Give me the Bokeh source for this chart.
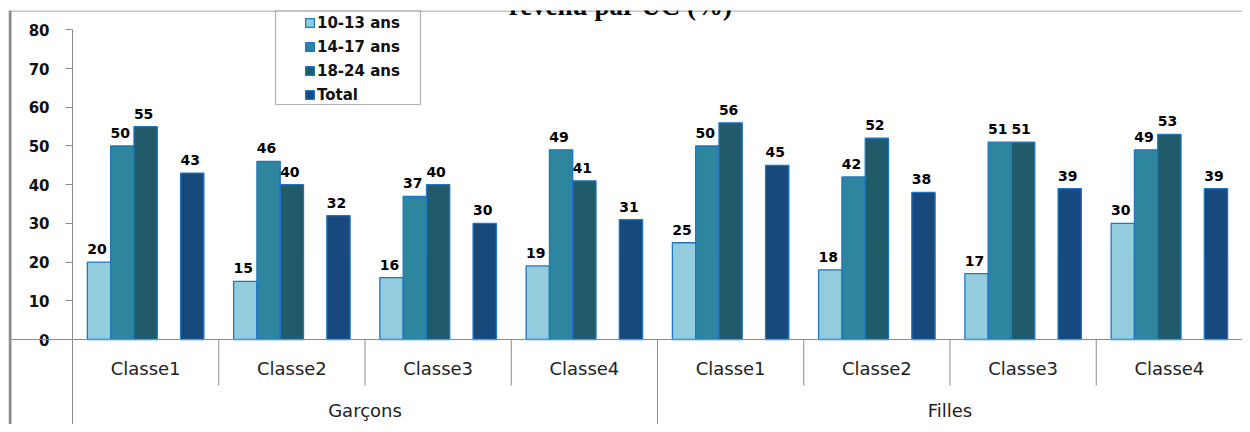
from bokeh.plotting import figure
from bokeh.models import (ColumnDataSource, Legend, LegendItem, FixedTicker, Span,
                          BoxAnnotation, Label, Range1d)
from bokeh.core.properties import value
from bokeh.embed import file_html
from bokeh.resources import INLINE

# ---------------- data ----------------
genders = ["Garçons", "Filles"]
classes = ["Classe1", "Classe2", "Classe3", "Classe4"]
series = ["10-13 ans", "14-17 ans", "18-24 ans", "Total"]
v_10_13 = [20, 15, 16, 19, 25, 18, 17, 30]
v_14_17 = [50, 46, 37, 49, 50, 42, 51, 49]
v_18_24 = [55, 40, 40, 41, 56, 52, 51, 53]
v_total = [43, 32, 30, 31, 45, 38, 39, 39]
y_ticks = [0, 10, 20, 30, 40, 50, 60, 70, 80]
title_text = "revenu par UC (%)"
colors = ["#93CDDD", "#2E869E", "#215A68", "#17497C"]

# ---------------- geometry ----------------
categories = [(g, c) for g in genders for c in classes]
n = len(categories)
X_START = -0.4376          # room for the y-axis labels left of the first group
Y_START, Y_END = -21.96, 85.01
W = 0.1593                 # bar (slot) width in group units
offsets = [-2 * W, -W, 0.0, 2 * W]

centers = [i + 0.5 for i in range(n)]
values = [v_10_13, v_14_17, v_18_24, v_total]
data = dict(xc=centers)
for i, vals in enumerate(values):
    data["x%d" % i] = [c + offsets[i] for c in centers]
    data["s%d" % i] = vals
    data["l%d" % i] = [str(v) for v in vals]
src = ColumnDataSource(data)

p = figure(x_range=Range1d(X_START, n), y_range=Range1d(Y_START, Y_END),
           width=1242, height=424, output_backend="svg", toolbar_location=None,
           x_axis_location=None, min_border_left=8, min_border_right=0,
           min_border_top=10, min_border_bottom=0)
p.outline_line_color = None
p.xgrid.grid_line_color = None
p.ygrid.grid_line_color = None
p.background_fill_color = "white"
p.border_fill_color = "white"

# y axis drawn at the start of the first group
ax = p.yaxis[0]
ax.fixed_location = 0
ax.ticker = FixedTicker(ticks=y_ticks)
ax.bounds = (Y_START, 80)
ax.axis_line_color = "#8C8C8C"
ax.major_tick_line_color = "#8C8C8C"
ax.major_tick_out = 7
ax.major_tick_in = 0
ax.minor_tick_line_color = None
ax.major_label_text_font = "DejaVu Sans"
ax.major_label_text_font_style = "bold"
ax.major_label_text_font_size = "15px"
ax.major_label_text_color = "#111111"
ax.major_label_standoff = 16

# chart-area border (left and top) and baseline
p.add_layout(Span(location=X_START + 0.0103, dimension="height",
                  line_color="#8C8C8C", line_width=3))
p.add_layout(Span(location=Y_END - 0.13, dimension="width",
                  line_color="#8C8C8C", line_width=1))
p.add_layout(Span(location=0, dimension="width", line_color="#8C8C8C", line_width=1))

# bars and value labels
renderers = []
for i in range(4):
    r = p.vbar(x="x%d" % i, top="s%d" % i, width=W, bottom=0, source=src,
               fill_color=colors[i], line_color="#1F74C4", line_width=1.3)
    renderers.append(r)
    p.text(x="x%d" % i, y="s%d" % i, text="l%d" % i, source=src,
           text_align="center", text_baseline="alphabetic", x_offset=-2, y_offset=-13,
           text_font=value("DejaVu Sans"), text_font_style="bold",
           text_font_size="14px", text_color="#000000")

# category separators
sep_x = [i + 1 for i in range(n - 1)]
sep_y1 = [Y_START if (i + 1) % len(classes) == 0 else -11.9 for i in range(n - 1)]
p.segment(x0=sep_x, x1=sep_x, y0=0, y1=sep_y1, line_color="#8C8C8C", line_width=1)

# category labels
p.text(x=centers, y=-7.5, text=[c for g, c in categories], text_align="center",
       text_baseline="middle", text_font=value("DejaVu Sans"),
       text_font_size="18px", text_color="#222222")
gen_x = [len(classes) * k + len(classes) / 2 for k in range(len(genders))]
p.text(x=gen_x, y=-18.4, text=genders, text_align="center",
       text_baseline="middle", text_font=value("DejaVu Sans"),
       text_font_size="18px", text_color="#222222")

# legend
legend = Legend(items=[LegendItem(label=series[i], renderers=[renderers[i]]) for i in range(4)],
                location=(296, 319), padding=0, margin=0, spacing=3,
                label_height=21, glyph_height=11, glyph_width=11, label_standoff=2,
                border_line_color=None, background_fill_alpha=0,
                label_text_font="DejaVu Sans", label_text_font_style="bold",
                label_text_font_size="15px", label_text_color="#111111")
p.add_layout(legend)
p.add_layout(BoxAnnotation(left=(275 - 72) / 146.25, right=(420 - 72) / 146.25,
                           bottom=(339 - 104) / 3.87, fill_alpha=0,
                           line_color="#000000", line_width=1.2))

# (cut-off) chart title
p.add_layout(Label(x=(620 - 72) / 146.25, y=(339 - 6) / 3.87, text=title_text,
                   text_align="center", text_baseline="alphabetic",
                   text_font="Liberation Serif", text_font_style="bold",
                   text_font_size="27px", text_color="#000000"))

open("out.html", "w").write(file_html(p, INLINE))
